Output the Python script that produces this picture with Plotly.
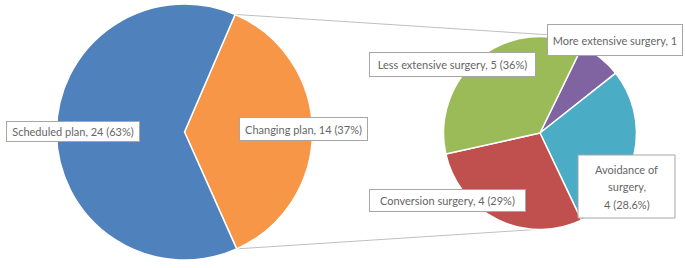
import math
import plotly.graph_objects as go

W, H = 685, 268

# ---- data ----
main_labels = ["Changing plan", "Scheduled plan"]
main_values = [14, 24]
main_colors = ["#F79646", "#4F81BD"]
main_text = ["Changing plan, 14 (37%)", "Scheduled plan, 24 (63%)"]

sub_labels = ["More extensive surgery", "Avoidance of surgery", "Conversion surgery", "Less extensive surgery"]
sub_values = [1, 4, 4, 5]
sub_colors = ["#8064A2", "#4BACC6", "#C0504D", "#9BBB59"]
sub_text = ["More extensive surgery, 1", ["Avoidance of", "surgery,", "4 (28.6%)"],
            "Conversion surgery, 4 (29%)", "Less extensive surgery, 5 (36%)"]

# ---- geometry (pixels) ----
L_cx, L_cy, L_r = 184.5, 132, 128
R_cx, R_cy, R_r = 540, 133, 96.5
main_rot = 23.3
sub_rot = 26


def dom(cx, cy, r):
    return dict(x=[(cx - r) / W, (cx + r) / W], y=[(H - cy - r) / H, (H - cy + r) / H])


fig = go.Figure()
fig.add_trace(go.Pie(labels=main_labels, values=main_values, sort=False, direction="clockwise",
                     rotation=main_rot, marker=dict(colors=main_colors, line=dict(color="white", width=1.5)),
                     textinfo="none", hoverinfo="skip", domain=dom(L_cx, L_cy, L_r)))
fig.add_trace(go.Pie(labels=sub_labels, values=sub_values, sort=False, direction="clockwise",
                     rotation=sub_rot, marker=dict(colors=sub_colors, line=dict(color="white", width=1.5)),
                     textinfo="none", hoverinfo="skip", domain=dom(R_cx, R_cy, R_r)))


def pt(cx, cy, r, deg):
    a = math.radians(deg)
    return cx + r * math.sin(a), cy - r * math.cos(a)


a1 = main_rot
a2 = main_rot + 360 * main_values[0] / sum(main_values)
p1 = pt(L_cx, L_cy, L_r, a1)
p2 = pt(L_cx, L_cy, L_r, a2)
q1 = pt(R_cx, R_cy, R_r + 2, 4)
q2 = pt(R_cx, R_cy, R_r, 182)

shapes = []
for (xa, ya), (xb, yb) in [(p1, q1), (p2, q2)]:
    shapes.append(dict(type="line", xref="paper", yref="paper",
                       x0=xa / W, y0=1 - ya / H, x1=xb / W, y1=1 - yb / H,
                       line=dict(color="#BFBFBF", width=1), layer="below"))

FONT = dict(family="Lato", size=11, color="#666666")

# label boxes: (text, left, top, right, bottom)
boxes = [
    (main_text[1], 6, 121, 140, 142),
    (main_text[0], 239, 117, 368, 141),
    (sub_text[3], 369, 52, 536, 77),
    (sub_text[0], 547, 24, 683, 56),
    (sub_text[1], 578, 155, 675, 218),
    (sub_text[2], 369, 189, 526, 212),
]
annotations = []
for t, x0, y0, x1, y1 in boxes:
    if isinstance(t, list):
        shapes.append(dict(type="rect", xref="paper", yref="paper",
                           x0=x0 / W, x1=x1 / W, y0=1 - y0 / H, y1=1 - y1 / H,
                           fillcolor="white", line=dict(color="#A6A6A6", width=1), layer="above"))
        n = len(t)
        step = 17.5
        cy = (y0 + y1) / 2
        for i, line in enumerate(t):
            yy = cy + (i - (n - 1) / 2) * step
            annotations.append(dict(text=line, xref="paper", yref="paper",
                                    x=(x0 + x1) / 2 / W, y=1 - yy / H,
                                    xanchor="center", yanchor="middle", showarrow=False,
                                    font=FONT))
        continue
    annotations.append(dict(text=t, xref="paper", yref="paper",
                            x=(x0 + x1) / 2 / W, y=1 - (y0 + y1) / 2 / H,
                            xanchor="center", yanchor="middle", showarrow=False,
                            width=x1 - x0 - 2, height=y1 - y0 - 2, borderpad=0,
                            bgcolor="white", bordercolor="#A6A6A6", borderwidth=1,
                            font=FONT))

fig.update_layout(width=W, height=H, margin=dict(l=0, r=0, t=0, b=0),
                  showlegend=False, paper_bgcolor="white", plot_bgcolor="white",
                  shapes=shapes, annotations=annotations)

fig.write_html("out.html", config={"displayModeBar": False},
               post_script="document.body.style.margin='0';")
